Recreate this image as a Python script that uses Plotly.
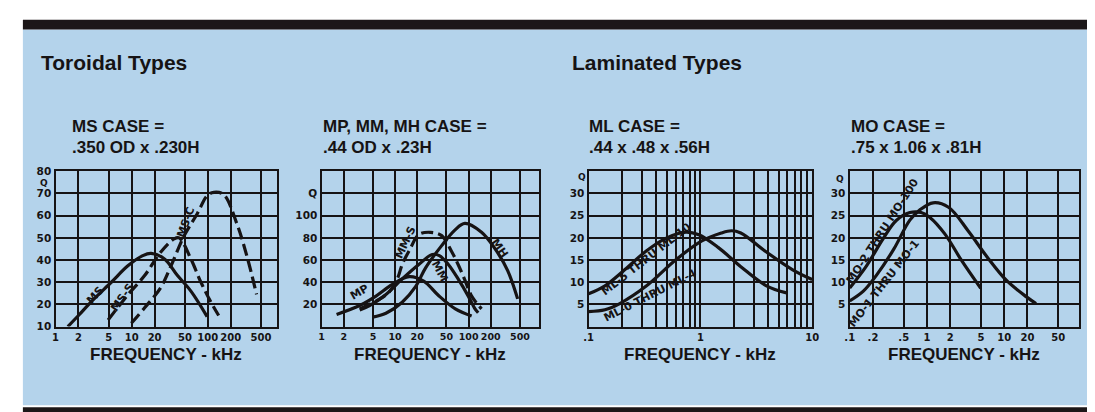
import plotly.graph_objects as go

W, H = 1095, 412
BLUE = "#b4d3eb"
INK = "#161314"

# ---- data (frequency kHz, Q) ----
ms_f = [1.45, 2, 3, 5.4, 9, 14, 18, 27, 40, 60, 98]
ms_q = [10, 15, 21.5, 30, 37.5, 42, 43, 40.5, 33, 26, 14.5]
mss_f = [4.9, 9, 14.8, 24, 36, 42, 60, 80, 108, 139]
mss_q = [13, 24.5, 33, 43.5, 49.5, 50, 40.5, 30.5, 21.5, 15]
msc_f = [9.9, 14.8, 24, 33, 49, 73, 98, 120, 162, 240, 325, 437]
msc_q = [11.5, 18.5, 27.5, 37.5, 51, 61, 69, 70.5, 69.5, 56.5, 42, 24.5]

mp_f = [1.6, 3.3, 5.5, 9.2, 15.5, 24.5, 39, 66, 110]
mp_q = [11, 19, 27.5, 38, 45, 41, 28, 16, 9.5]
mm_f = [3.3, 4.5, 7.5, 12.5, 21, 32, 40, 53, 72, 99, 121, 135]
mm_q = [15, 19, 29, 43, 56, 65, 64, 56, 43, 27.5, 16.5, 12.5]
mh_f = [4.95, 7.5, 12.5, 19, 26, 43, 65, 89, 150, 227, 340, 465]
mh_q = [8.5, 12, 22, 36, 53, 73, 87, 93, 85, 70.5, 50.5, 25]
mms_f = [3.3, 5.5, 8, 10.7, 12.5, 16, 21, 30, 43, 59, 72, 89, 110, 150]
mms_q = [16, 23, 30, 43, 56, 70, 83, 85, 82, 67.5, 56, 42, 27.5, 16]

ml5_f = [0.1, 0.14, 0.21, 0.33, 0.5, 0.74, 0.97, 1.45, 2.3, 3.9, 5.9]
ml5_q = [7.4, 9.2, 12.8, 17.1, 20, 21.3, 20.7, 17.8, 13.5, 9.2, 7.6]
ml0_f = [0.1, 0.14, 0.19, 0.33, 0.6, 1.03, 1.54, 1.9, 2.3, 3.9, 6.7, 10]
ml0_q = [3.4, 3.8, 5.2, 9.2, 15, 19.3, 21.1, 21.6, 21.1, 16.8, 12.8, 10.6]

mo2_f = [0.1, 0.165, 0.27, 0.4, 0.6, 0.84, 1.09, 1.7, 2.8, 4.97]
mo2_q = [8.7, 13.7, 19.8, 23.9, 25.7, 25.7, 24.6, 20.9, 14.9, 8.6]
mo1_f = [0.1, 0.15, 0.22, 0.37, 0.6, 0.81, 1.2, 1.9, 3.4, 6, 10.7, 19.4, 25.8]
mo1_q = [5.8, 8, 11.5, 17.4, 24, 26.3, 27.9, 26.9, 21.6, 15.7, 10.4, 6.7, 5.2]

# tick labels
ticks_wide = [1, 2, 5, 10, 20, 50, 100, 200, 500]
ticks_mo = [0.1, 0.2, 0.5, 1, 2, 5, 10, 20, 50]
text_mo = [".1", ".2", ".5", "1", "2", "5", "10", "20", "50"]
ticks_ml = [0.1, 0.2, 0.3, 0.4, 0.5, 0.6, 0.7, 0.8, 0.9,
            1, 2, 3, 4, 5, 6, 7, 8, 9, 10]
labels_ml = {0.1: ".1", 1: "1", 10: "10"}


def px(x):
    return x / W


def py(y):
    return 1 - y / H


fig = go.Figure()


def curve(f, q, ax, dashed=False):
    fig.add_trace(go.Scatter(
        x=f, y=q, mode="lines", xaxis=ax[0], yaxis=ax[1],
        line=dict(color=INK, width=3.2, shape="spline", smoothing=1.0,
                  dash="12px,5px" if dashed else "solid"),
        showlegend=False, hoverinfo="skip",
    ))


curve(ms_f, ms_q, ("x", "y"))
curve(mss_f, mss_q, ("x", "y"), dashed=True)
curve(msc_f, msc_q, ("x", "y"), dashed=True)
curve(mp_f, mp_q, ("x2", "y2"))
curve(mm_f, mm_q, ("x2", "y2"))
curve(mh_f, mh_q, ("x2", "y2"))
curve(mms_f, mms_q, ("x2", "y2"), dashed=True)
curve(ml5_f, ml5_q, ("x3", "y3"))
curve(ml0_f, ml0_q, ("x3", "y3"))
curve(mo2_f, mo2_q, ("x4", "y4"))
curve(mo1_f, mo1_q, ("x4", "y4"))


def tfont(size):
    return dict(family="DejaVu Sans", size=size, color=INK, weight="bold")


top, bottom = 162, 322
ydom = [py(bottom), py(top)]


def xax(left, right, rng, tv, tt, size=10, gw=2.4):
    return dict(type="log", domain=[px(left), px(right)], range=rng,
                tickmode="array", tickvals=tv, ticktext=tt, tickangle=0,
                showgrid=True, gridcolor=INK, gridwidth=gw,
                showline=True, mirror=True, linecolor=INK, linewidth=2.4,
                ticks="", tickfont=tfont(size), zeroline=False,
                fixedrange=True)


def yax(anchor, rng, tv, tt):
    return dict(anchor=anchor, domain=ydom, range=rng,
                tickmode="array", tickvals=tv, ticktext=tt,
                showgrid=True, gridcolor=INK, gridwidth=2.4,
                showline=True, mirror=True, linecolor=INK, linewidth=2.4,
                ticks="", tickfont=tfont(10.5), zeroline=False,
                fixedrange=True)


ml_text = [labels_ml.get(v, "") for v in ticks_ml]

fig.update_layout(
    xaxis=xax(43, 267, [0, 2.91], ticks_wide, [str(v) for v in ticks_wide]),
    yaxis=yax("x", [10, 80], list(range(10, 81, 10)),
              [str(v) for v in range(10, 81, 10)]),
    xaxis2=xax(312, 532, [0, 2.96], ticks_wide, [str(v) for v in ticks_wide],
               size=9.5),
    yaxis2=yax("x2", [0, 140], [20, 40, 60, 80, 100, 120],
               ["20", "40", "60", "80", "100", "Q"]),
    xaxis3=xax(582, 808, [-1, 1], ticks_ml, ml_text, gw=1.6),
    yaxis3=yax("x3", [0, 35], [5, 10, 15, 20, 25, 30],
               ["5", "10", "15", "20", "25", "30"]),
    xaxis4=xax(846, 1078, [-1, 1.97], ticks_mo, text_mo),
    yaxis4=yax("x4", [0, 35], [5, 10, 15, 20, 25, 30],
               ["5", "10", "15", "20", "25", "30"]),
)
fig.layout.xaxis2.anchor = "y2"
fig.layout.xaxis3.anchor = "y3"
fig.layout.xaxis4.anchor = "y4"

# background frame
shapes = [
    dict(type="rect", xref="paper", yref="paper", x0=px(10), x1=px(1092),
         y0=py(403), y1=py(16), fillcolor=BLUE, line_width=0, layer="below"),
    dict(type="rect", xref="paper", yref="paper", x0=px(10), x1=px(1092),
         y0=py(16), y1=py(6), fillcolor="#1c1718", line_width=0, layer="below"),
    dict(type="rect", xref="paper", yref="paper", x0=px(10), x1=px(1092),
         y0=py(412), y1=py(405), fillcolor="#1c1718", line_width=0, layer="below"),
]

head = "Liberation Sans Narrow, Arial Narrow, sans-serif"
ann = []
for txt, x in [("Toroidal Types", 26), ("Laminated Types", 563)]:
    ann.append(dict(text=txt, x=px(x), y=py(50), xref="paper", yref="paper",
                    xanchor="left", yanchor="middle", showarrow=False,
                    font=dict(family=head, size=21, color=INK, weight="bold")))
cases = [
    ("MS CASE =", ".350 OD x .230H", 58),
    ("MP, MM, MH CASE =", ".44 OD x .23H", 311),
    ("ML CASE =", ".44 x .48 x .56H", 580),
    ("MO CASE =", ".75 x 1.06 x .81H", 845),
]
for l1, l2, x in cases:
    for txt, y in [(l1, 116), (l2, 137)]:
        ann.append(dict(text=txt, x=px(x), y=py(y), xref="paper", yref="paper",
                        xanchor="left", yanchor="middle", showarrow=False,
                        font=dict(family=head, size=17, color=INK, weight="bold")))
for ax in ["x", "x2", "x3", "x4"]:
    ann.append(dict(text="FREQUENCY - kHz", x=0.5, y=py(351),
                    xref=f"{ax} domain", yref="paper", xanchor="center",
                    yanchor="middle", showarrow=False,
                    font=dict(family="Liberation Sans, Arial", size=17,
                              color=INK, weight="bold")))

# Q axis labels
for x, y in [(31, 174), (575, 168), (836, 170)]:
    ann.append(dict(text="Q", x=px(x), y=py(y), xref="paper", yref="paper",
                    xanchor="center", yanchor="middle", showarrow=False,
                    font=tfont(9)))

# curve labels (log10 f, Q)
lab = tfont(11)
curve_labels = [
    ("MS", "x", "y", 0.52, 24, -48),
    ("MS-S", "x", "y", 0.88, 23, -55),
    ("MS-C", "x", "y", 1.71, 57, -70),
    ("MP", "x2", "y2", 0.51, 31, -30),
    ("MM-S", "x2", "y2", 1.14, 76, -65),
    ("MM", "x2", "y2", 1.61, 50, 62),
    ("MH", "x2", "y2", 2.42, 70, 55),
    ("ML-5 THRU ML-10", "x3", "y3", -0.49, 15.2, -38),
    ("ML-0 THRU ML-4", "x3", "y3", -0.45, 7.0, -27),
    ("MO-2 THRU MO-100", "x4", "y4", -0.58, 21.5, -57),
    ("MO-1 THRU MO-1", "x4", "y4", -0.56, 9.8, -52),
]
for txt, xr, yr, x, y, a in curve_labels:
    ann.append(dict(text=txt, x=x, y=y, xref=xr, yref=yr, textangle=a,
                    showarrow=False, font=lab))

fig.update_layout(
    width=W, height=H, margin=dict(l=0, r=0, t=0, b=0),
    paper_bgcolor="white", plot_bgcolor="rgba(0,0,0,0)",
    shapes=shapes, annotations=ann, showlegend=False,
)

fig.write_html("out.html")
